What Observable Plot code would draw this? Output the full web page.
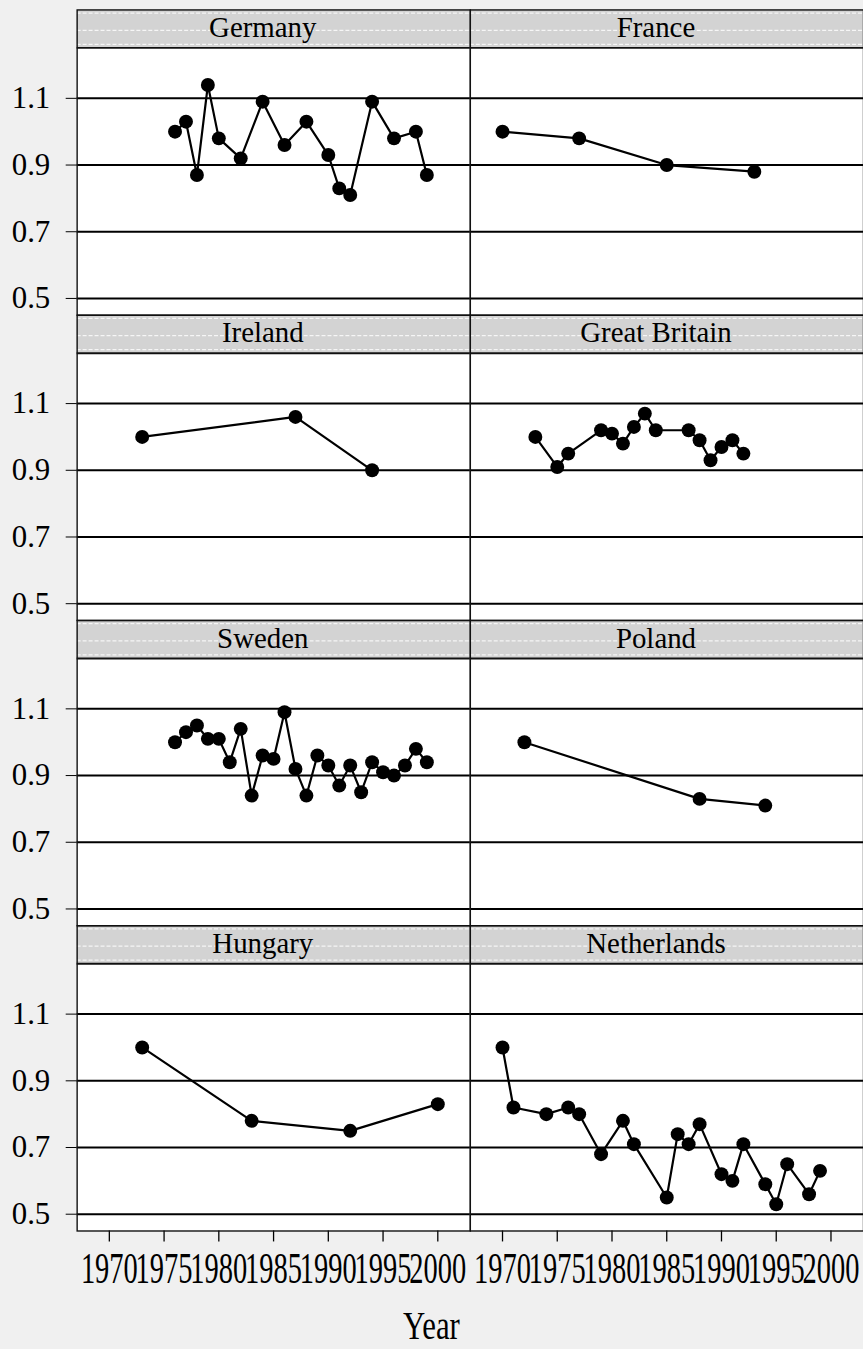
<!DOCTYPE html>
<html>
<head>
<meta charset="utf-8">
<script src="https://cdn.jsdelivr.net/npm/d3@7"></script>
<script src="https://cdn.jsdelivr.net/npm/@observablehq/plot@0.6"></script>
<style>
  html, body { margin: 0; padding: 0; background: #f0f0f0; overflow: hidden; }
  #wrap { position: relative; width: 863px; height: 1349px; }
  #xlabel {
    position: absolute; top: 1304px; left: 0; width: 863px; height: 44px; text-align: center;
    font-family: "Liberation Serif", "Times New Roman", serif; font-size: 40px; line-height: 44px;
    transform: scaleX(0.77); transform-origin: 431.5px 0; color: black;
  }
</style>
</head>
<body>
<div id="wrap"><div id="chart"></div><div id="xlabel">Year</div></div>
<script>
// ---- data ----
const countries = ["Germany", "France", "Ireland", "Great Britain", "Sweden", "Poland", "Hungary", "Netherlands"];

const germanyYears  = [1976, 1977, 1978, 1979, 1980, 1982, 1984, 1986, 1988, 1990, 1991, 1992, 1994, 1996, 1998, 1999];
const germanyValues = [1.00, 1.03, 0.87, 1.14, 0.98, 0.92, 1.09, 0.96, 1.03, 0.93, 0.83, 0.81, 1.09, 0.98, 1.00, 0.87];

const franceYears  = [1970, 1977, 1985, 1993];
const franceValues = [1.00, 0.98, 0.90, 0.88];

const irelandYears  = [1973, 1987, 1994];
const irelandValues = [1.00, 1.06, 0.90];

const britainYears  = [1973, 1975, 1976, 1979, 1980, 1981, 1982, 1983, 1984, 1987, 1988, 1989, 1990, 1991, 1992];
const britainValues = [1.00, 0.91, 0.95, 1.02, 1.01, 0.98, 1.03, 1.07, 1.02, 1.02, 0.99, 0.93, 0.97, 0.99, 0.95];

const swedenYears  = [1976, 1977, 1978, 1979, 1980, 1981, 1982, 1983, 1984, 1985, 1986, 1987, 1988, 1989, 1990, 1991, 1992, 1993, 1994, 1995, 1996, 1997, 1998, 1999];
const swedenValues = [1.00, 1.03, 1.05, 1.01, 1.01, 0.94, 1.04, 0.84, 0.96, 0.95, 1.09, 0.92, 0.84, 0.96, 0.93, 0.87, 0.93, 0.85, 0.94, 0.91, 0.90, 0.93, 0.98, 0.94];

const polandYears  = [1972, 1988, 1994];
const polandValues = [1.00, 0.83, 0.81];

const hungaryYears  = [1973, 1983, 1992, 2000];
const hungaryValues = [1.00, 0.78, 0.75, 0.83];

const netherlandsYears  = [1970, 1971, 1974, 1976, 1977, 1979, 1981, 1982, 1985, 1986, 1987, 1988, 1990, 1991, 1992, 1994, 1995, 1996, 1998, 1999];
const netherlandsValues = [1.00, 0.82, 0.80, 0.82, 0.80, 0.68, 0.78, 0.71, 0.55, 0.74, 0.71, 0.77, 0.62, 0.60, 0.71, 0.59, 0.53, 0.65, 0.56, 0.63];

const xTicks = [1970, 1975, 1980, 1985, 1990, 1995, 2000];
const yTicks = [0.5, 0.7, 0.9, 1.1];

// ---- build table ----
const series = {
  "Germany": [germanyYears, germanyValues],
  "France": [franceYears, franceValues],
  "Ireland": [irelandYears, irelandValues],
  "Great Britain": [britainYears, britainValues],
  "Sweden": [swedenYears, swedenValues],
  "Poland": [polandYears, polandValues],
  "Hungary": [hungaryYears, hungaryValues],
  "Netherlands": [netherlandsYears, netherlandsValues]
};
const col = c => countries.indexOf(c) % 2;
const row = c => Math.floor(countries.indexOf(c) / 2);
const data = countries.flatMap(c => series[c][0].map((yr, i) => ({country: c, year: yr, value: series[c][1][i]})));

// scale layout: panel top value and strip top value (strip lives above the panel)
const panelTop = 1.251, stripTop = 1.365, panelBottom = 0.4497;

const chart = Plot.plot({
  width: 867,
  height: 1300,
  marginLeft: 77,
  marginRight: 0,
  marginTop: 9.5,
  marginBottom: 63.8,
  x: {domain: [1967.06, 2002.97]},
  y: {domain: [panelBottom, stripTop]},
  fx: {padding: 0, axis: null, round: false},
  fy: {padding: 0, axis: null, round: false},
  style: {fontFamily: "'Liberation Serif', 'Times New Roman', serif", background: "#f0f0f0", color: "black", overflow: "visible"},
  marks: [
    Plot.frame({fill: "white", stroke: null}),
    // strip
    Plot.rect(countries, {fx: col, fy: row, y1: panelTop, y2: stripTop, fill: "#d3d3d3"}),
    Plot.ruleY(countries, {fx: col, fy: row, y: () => stripTop - 0.0095, stroke: "white", strokeWidth: 1.2, strokeDasharray: "4,2", strokeOpacity: 0.8}),
    Plot.ruleY(countries, {fx: col, fy: row, y: () => (stripTop + panelTop) / 2 - 0.004, stroke: "white", strokeWidth: 1.2, strokeDasharray: "4,2", strokeOpacity: 0.8}),
    Plot.ruleY(countries, {fx: col, fy: row, y: () => panelTop + 0.011, stroke: "white", strokeWidth: 1.2, strokeDasharray: "4,2", strokeOpacity: 0.8}),
    Plot.ruleY(countries, {fx: col, fy: row, y: () => panelTop, stroke: "#111", strokeWidth: 1.8}),
    Plot.text(countries, {fx: col, fy: row, text: d => d, frameAnchor: "top", dy: 18, dx: -11, lineAnchor: "middle", fontSize: 29, fill: "black"}),
    // gridlines
    Plot.ruleY(yTicks, {stroke: "black", strokeWidth: 2}),
    // axes
    Plot.axisY({ticks: yTicks, tickSize: 11, tickPadding: 16, fontSize: 31, tickFormat: d => d.toFixed(1), label: null}),
    Plot.axisX({ticks: xTicks, tickSize: 11, tickPadding: 10, fontSize: 44, tickFormat: d => String(d), label: null, strokeWidth: 1.3}),
    // data
    Plot.line(data, {x: "year", y: "value", fx: d => col(d.country), fy: d => row(d.country), stroke: "black", strokeWidth: 2.2}),
    Plot.dot(data, {x: "year", y: "value", fx: d => col(d.country), fy: d => row(d.country), r: 7, fill: "black", stroke: null}),
    Plot.frame({stroke: "#111", strokeWidth: 1.4})
  ]
});

document.getElementById("chart").appendChild(chart);

// x tick labels in the reference are horizontally condensed
chart.querySelectorAll('g[aria-label="x-axis tick label"] text').forEach(t => {
  const tr = t.getAttribute("transform") || "";
  t.setAttribute("transform", `${tr} scale(0.65,1)`);
});
</script>
</body>
</html>
